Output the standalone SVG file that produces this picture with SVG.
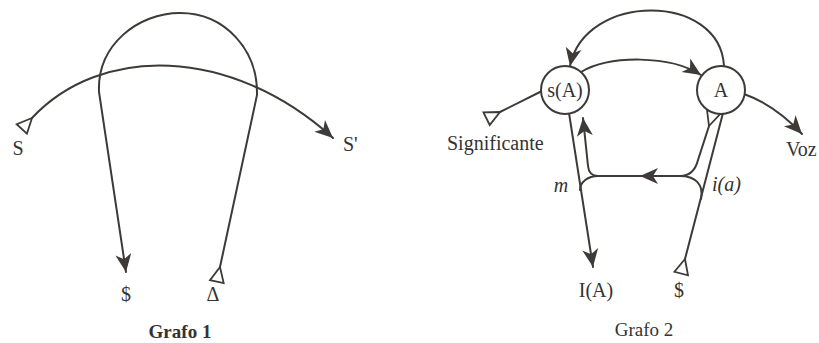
<svg xmlns="http://www.w3.org/2000/svg" width="819" height="343" viewBox="0 0 819 343">
<style>
.ln{fill:none;stroke:#3d3a38;stroke-width:2;stroke-linecap:round}
.nd{fill:#fff;stroke:#3d3a38;stroke-width:2}
.tx{font-family:"Liberation Serif","DejaVu Serif",serif;font-size:20px;fill:#333}
.it{font-style:italic}
.ttl{font-family:"Liberation Serif","DejaVu Serif",serif;font-size:19px;fill:#333;text-anchor:middle}
</style>
<defs>
<marker id="arr" markerUnits="userSpaceOnUse" markerWidth="22" markerHeight="22" viewBox="-20 -11 22 22" refX="0" refY="0" orient="auto">
<path d="M0,0 L-18,-8 L-13,0 L-18,8 Z" fill="#3d3a38"/>
</marker>
<marker id="tri" markerUnits="userSpaceOnUse" markerWidth="22" markerHeight="22" viewBox="-19 -11 22 22" refX="0" refY="0" orient="auto">
<path d="M0,0 L-15,-7 L-15,7 Z" fill="#fff" stroke="#3d3a38" stroke-width="1.8" stroke-linejoin="miter"/>
</marker>
</defs>

<!-- Grafo 1 -->
<g id="connectors-g1">
<path class="ln" d="M32,118 C100,45 230,45 333,138" marker-start="url(#tri)" marker-end="url(#arr)"/>
<path class="ln" d="M220,267 L257,95 C258,50 225,13 180,13 C138,13 97,45 99,92 L126,272" marker-start="url(#tri)" marker-end="url(#arr)"/>
</g>
<g id="g1-S"><text class="tx" x="18" y="155" text-anchor="middle">S</text></g>
<g id="g1-Sp"><text class="tx" x="343" y="151">S'</text></g>
<g id="g1-barS"><text class="tx" x="126" y="301" text-anchor="middle">$</text></g>
<g id="g1-delta"><text class="tx" x="213" y="301" text-anchor="middle" font-size="22">Δ</text></g>
<g id="g1-title"><text class="ttl" x="180" y="338" font-weight="bold">Grafo 1</text></g>

<!-- Grafo 2 -->
<g id="connectors-g2">
<path class="ln" d="M724,66 C720,-8 585,-8 570,66" marker-end="url(#arr)"/>
<path class="ln" d="M581,72 C610,55 670,55 701,75" marker-end="url(#arr)"/>
<path class="ln" d="M500,112 L542,91" marker-start="url(#tri)"/>
<path class="ln" d="M744,94 Q775,105 802,134" marker-end="url(#arr)"/>
<path class="ln" d="M569,113 L593,267" marker-end="url(#arr)"/>
<path class="ln" d="M685,259 L723,113" marker-start="url(#tri)"/>
<path class="ln" d="M709,126 L698,160 Q694,176 680,176 L640,176" marker-start="url(#tri)" marker-end="url(#arr)"/>
<path class="ln" d="M642,176 L598,176 Q589,176 588,166 L583,118" marker-end="url(#arr)"/>
<path class="ln" d="M598,176 C588,176 580,182 580,190"/>
<path class="ln" d="M680,176 C695,176 704,184 701,199"/>
</g>
<g id="node-sA"><circle class="nd" cx="565" cy="90" r="24"/><text class="tx" x="565" y="97" text-anchor="middle">s(A)</text></g>
<g id="node-A"><circle class="nd" cx="721" cy="90" r="24"/><text class="tx" x="721" y="97" text-anchor="middle">A</text></g>
<g id="g2-signif"><text class="tx" x="447" y="150">Significante</text></g>
<g id="g2-voz"><text class="tx" x="786" y="156">Voz</text></g>
<g id="g2-m"><text class="tx it" x="561" y="192" text-anchor="middle">m</text></g>
<g id="g2-ia"><text class="tx it" x="712" y="191">i(a)</text></g>
<g id="g2-IA"><text class="tx" x="596" y="297" text-anchor="middle">I(A)</text></g>
<g id="g2-barS"><text class="tx" x="679" y="297" text-anchor="middle">$</text></g>
<g id="g2-title"><text class="ttl" x="644" y="336">Grafo 2</text></g>
</svg>
